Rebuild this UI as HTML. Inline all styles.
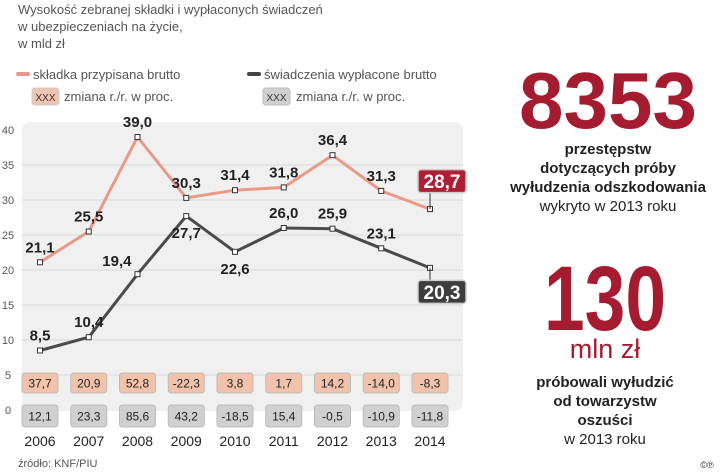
<!DOCTYPE html>
<html><head><meta charset="utf-8"><style>
body{margin:0;background:#fff;}
svg{display:block;font-family:"Liberation Sans",sans-serif;}
</style></head><body>
<svg id="chart" width="720" height="473" viewBox="0 0 720 473" xmlns="http://www.w3.org/2000/svg">
<g fill="#555" font-size="13">
<text x="18" y="14">Wysokość zebranej składki i wypłaconych świadczeń</text>
<text x="18" y="31">w ubezpieczeniach na życie,</text>
<text x="18" y="48">w mld zł</text>
</g>
<g font-size="13" fill="#555">
<rect x="16" y="72" width="14" height="4" rx="2" fill="#e8998a"/>
<text x="33" y="79">składka przypisana brutto</text>
<rect x="32" y="88" width="27" height="17" rx="3" fill="#f0c4b0" stroke="#ccc"/>
<text x="45.5" y="101" text-anchor="middle" font-size="10" fill="#333">XXX</text>
<text x="64" y="101">zmiana r./r. w proc.</text>
<rect x="247" y="72" width="14" height="4" rx="2" fill="#444"/>
<text x="264" y="79">świadczenia wypłacone brutto</text>
<rect x="263" y="88" width="27" height="17" rx="3" fill="#d0d0d0" stroke="#bbb"/>
<text x="276.5" y="101" text-anchor="middle" font-size="10" fill="#333">XXX</text>
<text x="296" y="101">zmiana r./r. w proc.</text>
</g>
<rect x="22" y="122" width="441" height="289" rx="8" fill="#f0f0f0"/>
<g id="grid"></g>
<g id="marks"></g>
<g text-anchor="middle">
<text x="608" y="128" font-size="80" font-weight="bold" fill="#a51c30" textLength="178" lengthAdjust="spacingAndGlyphs">8353</text>
<g font-size="15" font-weight="bold" fill="#222">
<text x="608" y="154">przestępstw</text>
<text x="608" y="173">dotyczących próby</text>
<text x="608" y="192">wyłudzenia odszkodowania</text>
</g>
<text x="608" y="211" font-size="15" fill="#222">wykryto w 2013 roku</text>
<text x="605" y="330" font-size="92" font-weight="bold" fill="#a51c30" textLength="122" lengthAdjust="spacingAndGlyphs">130</text>
<text x="605" y="358" font-size="27" fill="#a51c30">mln zł</text>
<g font-size="15" font-weight="bold" fill="#222">
<text x="605" y="387">próbowali wyłudzić</text>
<text x="605" y="406">od towarzystw</text>
<text x="605" y="425">oszuści</text>
</g>
<text x="605" y="444" font-size="15" fill="#222">w 2013 roku</text>
<text x="707" y="468" font-size="9" fill="#333">©℗</text>
</g>
<text x="18" y="467" font-size="11" fill="#555">źródło: KNF/PIU</text>
</svg>
<script>
const years=["2006","2007","2008","2009","2010","2011","2012","2013","2014"];
const premium=[21.1,25.5,39.0,30.3,31.4,31.8,36.4,31.3,28.7];
const benefits=[8.5,10.4,19.4,27.7,22.6,26.0,25.9,23.1,20.3];
const premiumChange=["37,7","20,9","52,8","-22,3","3,8","1,7","14,2","-14,0","-8,3"];
const benefitsChange=["12,1","23,3","85,6","43,2","-18,5","15,4","-0,5","-10,9","-11,8"];
const yTicks=[0,5,10,15,20,25,30,35,40];
const benefitsLabelPos=["a","a","l","b","b","a","a","a","a"];
const NS="http://www.w3.org/2000/svg";
const X=i=>40+i*48.75, Y=v=>410-v*7;
const fmt=v=>v.toFixed(1).replace('.',',');
function mk(tag,attrs,parent,txt){const e=document.createElementNS(NS,tag);for(const k in attrs)e.setAttribute(k,attrs[k]);if(txt!==undefined)e.textContent=txt;parent.appendChild(e);return e;}
const grid=document.getElementById('grid'), marks=document.getElementById('marks');
yTicks.forEach(t=>{
  if(t>0&&t<40){const l=mk('line',{x1:22,x2:463,y1:Y(t),y2:Y(t),stroke:'#d8d8d8','stroke-width':1},grid);
  
  }
  const tx=mk('text',{x:8,y:Y(t)+4,'text-anchor':'middle','font-size':11,fill:'#555'},grid,String(t));
  
  
});
function series(vals,color,name){
  const p=mk('polyline',{points:vals.map((v,i)=>X(i)+','+Y(v)).join(' '),fill:'none',stroke:color,'stroke-width':3,'stroke-linejoin':'round'},marks);
  
  
  vals.forEach((v,i)=>{const r=mk('rect',{x:X(i)-2.5,y:Y(v)-2.5,width:5,height:5,fill:'#fff',stroke:'#333','stroke-width':1},marks);
  
  });
}
series(premium,'#e8998a','premium');
series(benefits,'#4a4a4a','benefits');
function label(x,y,txt,name,anchor){const t=mk('text',{x:x,y:y,'text-anchor':anchor||'middle','font-size':15,'font-weight':'bold',fill:'#222'},marks,txt);
  
  }
function box(cx,cy,txt,fill,name){const w=48,h=23;
  const r=mk('rect',{x:cx-w/2,y:cy-h/2,width:w,height:h,rx:3,fill:fill,stroke:'#ccc','stroke-width':1.5},marks);
  
  
  const t=mk('text',{x:cx,y:cy+7,'text-anchor':'middle','font-size':19,'font-weight':'bold',fill:'#fff'},marks,txt);
  
  }
const last=years.length-1;
premium.forEach((v,i)=>{if(i<last)label(X(i),Y(v)-10,fmt(v),'premium-value');});
benefits.forEach((v,i)=>{if(i===last)return;const p=benefitsLabelPos[i];
  if(p==='a')label(X(i),Y(v)-10,fmt(v),'benefits-value');
  else if(p==='b')label(X(i),Y(v)+22,fmt(v),'benefits-value');
  else label(X(i)-6,Y(v)-8,fmt(v),'benefits-value','end');});
mk('line',{x1:X(last),y1:Y(premium[last]),x2:X(last),y2:Y(premium[last])-20,stroke:'#333'},marks);
box(X(last)+12,Y(premium[last])-28,fmt(premium[last]),'#b01e35','premium-last-value');
mk('line',{x1:X(last),y1:Y(benefits[last]),x2:X(last),y2:Y(benefits[last])+12,stroke:'#333'},marks);
box(X(last)+12,Y(benefits[last])+24,fmt(benefits[last]),'#3d3d3d','benefits-last-value');
years.forEach((y,i)=>{
  const x=X(i);
  const r1=mk('rect',{x:x-18,y:373,width:36,height:20,rx:3,fill:'#f3c2ab',stroke:'#bbb'},marks);
  
  
  mk('text',{x:x,y:387.5,'text-anchor':'middle','font-size':12,fill:'#222'},marks,premiumChange[i]);
  const r2=mk('rect',{x:x-18,y:405,width:36,height:22,rx:3,fill:'#d0d0d0',stroke:'#bbb'},marks);
  
  
  mk('text',{x:x,y:420.5,'text-anchor':'middle','font-size':12,fill:'#222'},marks,benefitsChange[i]);
  const t=mk('text',{x:x,y:446,'text-anchor':'middle','font-size':14,fill:'#222'},marks,y);
  
  
});
</script>
</body></html>
